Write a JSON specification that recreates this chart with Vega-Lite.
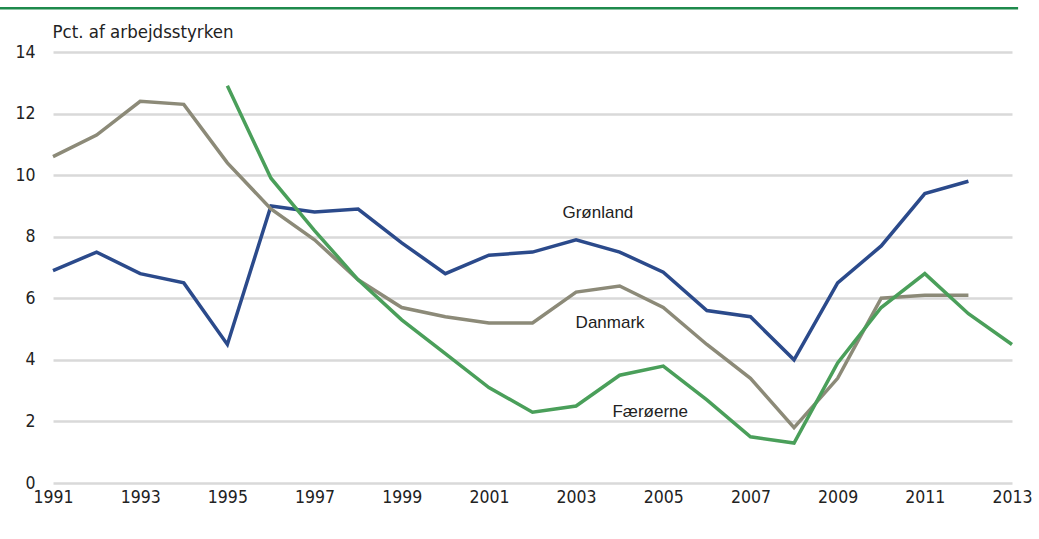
{
  "$schema": "https://vega.github.io/schema/vega-lite/v6.json",
  "autosize": "none",
  "width": 959,
  "height": 431,
  "padding": {"left": 53, "top": 52, "right": 27, "bottom": 56},
  "background": "white",
  "config": {
    "view": {"stroke": null},
    "font": "DejaVu Sans Condensed"
  },
  "datasets": {
    "series": [
      {"year": 1991, "land": "Grønland", "value": 6.9},
      {"year": 1992, "land": "Grønland", "value": 7.5},
      {"year": 1993, "land": "Grønland", "value": 6.8},
      {"year": 1994, "land": "Grønland", "value": 6.5},
      {"year": 1995, "land": "Grønland", "value": 4.5},
      {"year": 1996, "land": "Grønland", "value": 9.0},
      {"year": 1997, "land": "Grønland", "value": 8.8},
      {"year": 1998, "land": "Grønland", "value": 8.9},
      {"year": 1999, "land": "Grønland", "value": 7.8},
      {"year": 2000, "land": "Grønland", "value": 6.8},
      {"year": 2001, "land": "Grønland", "value": 7.4},
      {"year": 2002, "land": "Grønland", "value": 7.5},
      {"year": 2003, "land": "Grønland", "value": 7.9},
      {"year": 2004, "land": "Grønland", "value": 7.5},
      {"year": 2005, "land": "Grønland", "value": 6.85},
      {"year": 2006, "land": "Grønland", "value": 5.6},
      {"year": 2007, "land": "Grønland", "value": 5.4},
      {"year": 2008, "land": "Grønland", "value": 4.0},
      {"year": 2009, "land": "Grønland", "value": 6.5},
      {"year": 2010, "land": "Grønland", "value": 7.7},
      {"year": 2011, "land": "Grønland", "value": 9.4},
      {"year": 2012, "land": "Grønland", "value": 9.8},
      {"year": 1991, "land": "Danmark", "value": 10.6},
      {"year": 1992, "land": "Danmark", "value": 11.3},
      {"year": 1993, "land": "Danmark", "value": 12.4},
      {"year": 1994, "land": "Danmark", "value": 12.3},
      {"year": 1995, "land": "Danmark", "value": 10.4},
      {"year": 1996, "land": "Danmark", "value": 8.9},
      {"year": 1997, "land": "Danmark", "value": 7.9},
      {"year": 1998, "land": "Danmark", "value": 6.6},
      {"year": 1999, "land": "Danmark", "value": 5.7},
      {"year": 2000, "land": "Danmark", "value": 5.4},
      {"year": 2001, "land": "Danmark", "value": 5.2},
      {"year": 2002, "land": "Danmark", "value": 5.2},
      {"year": 2003, "land": "Danmark", "value": 6.2},
      {"year": 2004, "land": "Danmark", "value": 6.4},
      {"year": 2005, "land": "Danmark", "value": 5.7},
      {"year": 2006, "land": "Danmark", "value": 4.5},
      {"year": 2007, "land": "Danmark", "value": 3.4},
      {"year": 2008, "land": "Danmark", "value": 1.8},
      {"year": 2009, "land": "Danmark", "value": 3.4},
      {"year": 2010, "land": "Danmark", "value": 6.0},
      {"year": 2011, "land": "Danmark", "value": 6.1},
      {"year": 2012, "land": "Danmark", "value": 6.1},
      {"year": 1995, "land": "Færøerne", "value": 12.9},
      {"year": 1996, "land": "Færøerne", "value": 9.9},
      {"year": 1997, "land": "Færøerne", "value": 8.2},
      {"year": 1998, "land": "Færøerne", "value": 6.6},
      {"year": 1999, "land": "Færøerne", "value": 5.3},
      {"year": 2000, "land": "Færøerne", "value": 4.2},
      {"year": 2001, "land": "Færøerne", "value": 3.1},
      {"year": 2002, "land": "Færøerne", "value": 2.3},
      {"year": 2003, "land": "Færøerne", "value": 2.5},
      {"year": 2004, "land": "Færøerne", "value": 3.5},
      {"year": 2005, "land": "Færøerne", "value": 3.8},
      {"year": 2006, "land": "Færøerne", "value": 2.7},
      {"year": 2007, "land": "Færøerne", "value": 1.5},
      {"year": 2008, "land": "Færøerne", "value": 1.3},
      {"year": 2009, "land": "Færøerne", "value": 3.9},
      {"year": 2010, "land": "Færøerne", "value": 5.7},
      {"year": 2011, "land": "Færøerne", "value": 6.8},
      {"year": 2012, "land": "Færøerne", "value": 5.5},
      {"year": 2013, "land": "Færøerne", "value": 4.5}
    ],
    "labels": [
      {"year": 2003.5, "value": 8.77, "land": "Grønland"},
      {"year": 2003.78, "value": 5.2, "land": "Danmark"},
      {"year": 2004.7, "value": 2.3, "land": "Færøerne"}
    ]
  },
  "layer": [
    {
      "data": {"values": [{}]},
      "mark": {"type": "rule", "color": "#1E8A4C", "strokeWidth": 2.5, "clip": false},
      "encoding": {
        "x": {"datum": 1989.78, "type": "quantitative", "scale": {"domain": [1991, 2013]}},
        "x2": {"datum": 2013.14},
        "y": {"datum": 15.42, "type": "quantitative"}
      }
    },
    {
      "data": {"name": "series"},
      "mark": {"type": "line", "strokeWidth": 3.5, "strokeJoin": "miter", "clip": false},
      "encoding": {
        "x": {
          "field": "year", "type": "quantitative",
          "scale": {"domain": [1991, 2013], "nice": false, "zero": false},
          "axis": {
            "values": [1991, 1993, 1995, 1997, 1999, 2001, 2003, 2005, 2007, 2009, 2011, 2013],
            "format": "d", "title": null, "grid": false, "domain": false, "ticks": false,
            "labelFontSize": 17.5, "labelColor": "#222222", "labelPadding": 5,
            "labelFont": "DejaVu Sans Condensed", "labelFlush": false
          }
        },
        "y": {
          "field": "value", "type": "quantitative",
          "scale": {"domain": [0, 14], "nice": false},
          "axis": {
            "values": [0, 2, 4, 6, 8, 10, 12, 14],
            "title": "Pct. af arbejdsstyrken",
            "titleAngle": 0, "titleAlign": "left", "titleBaseline": "alphabetic",
            "titleX": -1, "titleY": -15, "titleFontSize": 18.5, "titleFontWeight": "normal",
            "titleColor": "#222222", "titleFont": "DejaVu Sans Condensed",
            "grid": true, "gridColor": "#D9D9D9", "gridWidth": 2.5,
            "domain": false, "ticks": false,
            "labelFontSize": 17.5, "labelColor": "#222222", "labelPadding": 18,
            "labelFont": "DejaVu Sans Condensed"
          }
        },
        "color": {
          "field": "land", "type": "nominal",
          "scale": {"domain": ["Grønland", "Danmark", "Færøerne"], "range": ["#2B4A8B", "#8C8A78", "#4A9F5A"]},
          "legend": null
        }
      }
    },
    {
      "data": {"name": "labels"},
      "mark": {"type": "text", "fontSize": 17, "color": "#222222", "font": "Liberation Sans"},
      "encoding": {
        "x": {"field": "year", "type": "quantitative"},
        "y": {"field": "value", "type": "quantitative"},
        "text": {"field": "land"}
      }
    }
  ]
}
